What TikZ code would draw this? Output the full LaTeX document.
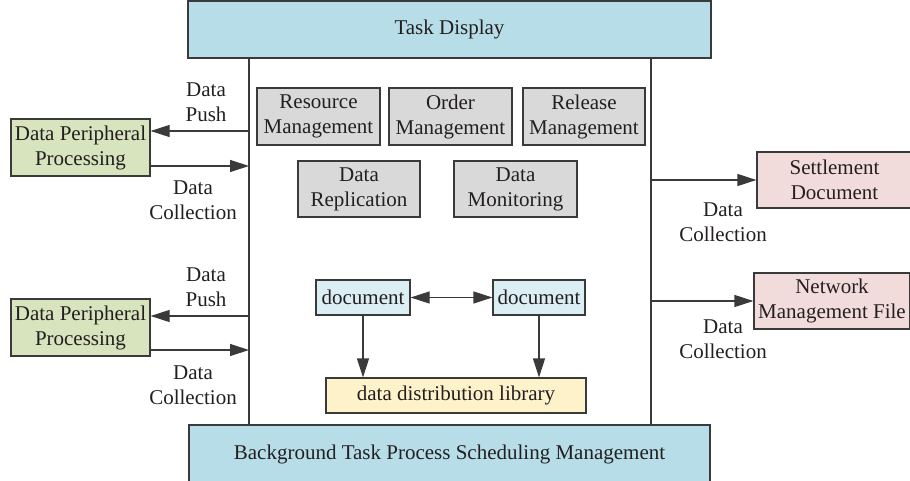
\documentclass[tikz,border=0pt]{standalone}
\usepackage{fontspec}
\setmainfont{Liberation Serif}
\usetikzlibrary{arrows.meta}
\definecolor{txt}{HTML}{231F20}
\definecolor{edge}{HTML}{3A3A3A}
\definecolor{topblue}{HTML}{B7DEE8}
\definecolor{green}{HTML}{D7E4BD}
\definecolor{gray}{HTML}{D9D9D9}
\definecolor{docblue}{HTML}{DAEEF3}
\definecolor{lib}{HTML}{FDF2CA}
\definecolor{pink}{HTML}{F2DCDB}
\tikzset{
  box/.style={draw=edge, line width=1.2pt, inner sep=0pt, align=center, text=txt,
    font=\fontsize{21}{25}\selectfont},
  lbl/.style={align=center, text=txt, inner sep=0pt, font=\fontsize{21}{25}\selectfont},
  arr/.style={draw=edge, line width=1.2pt, -{Triangle[length=19pt,width=12pt]}},
  darr/.style={draw=edge, line width=1.2pt, {Triangle[length=19pt,width=12pt]}-{Triangle[length=19pt,width=12pt]}},
  ln/.style={draw=edge, line width=1.2pt}
}
\begin{document}
\begin{tikzpicture}[x=1pt,y=-1pt]
\useasboundingbox (0,0) rectangle (910,481);
% top and bottom bars
\node[box, fill=topblue, minimum width=523, minimum height=57] (top) at (449.5,29.5) {Task Display};
\node[box, fill=topblue, minimum width=521, minimum height=58] (bot) at (449.5,454) {Background Task Process Scheduling Management};
% vertical lines
\coordinate (lt) at (249,58);
\coordinate (lb) at (249,425);
\coordinate (rt) at (651,58);
\coordinate (rb) at (651,425);
\draw[ln] (lt) -- (lb);
\draw[ln] (rt) -- (rb);
% gray boxes
\node[box, fill=gray, minimum width=123, minimum height=57] (res) at (318.5,116.5) {Resource\\Management};
\node[box, fill=gray, minimum width=123, minimum height=57] (ord) at (450.5,116.5) {Order\\Management};
\node[box, fill=gray, minimum width=122, minimum height=57] (rel) at (584,116.5) {Release\\Management};
\node[box, fill=gray, minimum width=122, minimum height=56] (rep) at (359,189) {Data\\Replication};
\node[box, fill=gray, minimum width=123, minimum height=56] (mon) at (515.5,189) {Data\\Monitoring};
% documents
\node[box, fill=docblue, minimum width=94, minimum height=35] (d1) at (363,297.5) {document};
\node[box, fill=docblue, minimum width=92, minimum height=35] (d2) at (539,297.5) {document};
\node[box, fill=lib, minimum width=260, minimum height=35] (lib) at (456,395.5) {data distribution library};
\draw[darr] (d1) -- (d2);
\draw[arr] (d1.south) -- (d1.south |- lib.north);
\draw[arr] (d2.south) -- (d2.south |- lib.north);
% left boxes
\node[box, fill=green, minimum width=139, minimum height=57] (p1) at (80.5,147.5) {Data Peripheral\\Processing};
\node[box, fill=green, minimum width=139, minimum height=57] (p2) at (80.5,327.5) {Data Peripheral\\Processing};
\coordinate (a1) at (249,131);
\coordinate (b1) at (249,166);
\coordinate (a2) at (249,316);
\coordinate (b2) at (249,350);
\draw[arr] (a1) -- (a1 -| p1.east);
\draw[arr] (b1 -| p1.east) -- (b1);
\draw[arr] (a2) -- (a2 -| p2.east);
\draw[arr] (b2 -| p2.east) -- (b2);
\node[lbl] (l1) at (206,102.5) {Data\\Push};
\node[lbl] (l2) at (193,200) {Data\\Collection};
\node[lbl] (l3) at (206,287) {Data\\Push};
\node[lbl] (l4) at (193,385) {Data\\Collection};
% right boxes
\node[box, fill=pink, minimum width=155, minimum height=56] (s1) at (834.5,180) {Settlement\\Document};
\node[box, fill=pink, minimum width=156, minimum height=56] (s2) at (832,301) {Network\\Management File};
\coordinate (c1) at (651,180);
\coordinate (c2) at (651,301);
\draw[arr] (c1) -- (s1.west);
\draw[arr] (c2) -- (s2.west);
\node[lbl] (r1) at (723,222.5) {Data\\Collection};
\node[lbl] (r2) at (723,339.5) {Data\\Collection};
\end{tikzpicture}
\end{document}
